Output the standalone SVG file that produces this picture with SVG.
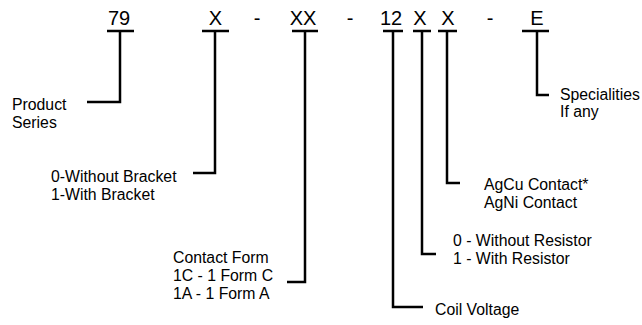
<svg xmlns="http://www.w3.org/2000/svg" width="642" height="325" viewBox="0 0 642 325">
<style>
.code{font-family:"Liberation Sans",Arial,sans-serif;font-size:20px;fill:#000;text-anchor:middle}
.lbl{font-family:"Liberation Sans",Arial,sans-serif;font-size:15.8px;fill:#000}
.ln{fill:none;stroke:#000;stroke-width:2.5;stroke-linejoin:miter;stroke-linecap:butt}
</style>
<rect width="642" height="325" fill="#fff"/>
<g id="code">
<text class="code" x="119" y="25">79</text>
<text class="code" x="215.5" y="25">X</text>
<text class="code" x="257" y="25">-</text>
<text class="code" x="303" y="25">XX</text>
<text class="code" x="350" y="25">-</text>
<text class="code" x="391" y="25">12</text>
<text class="code" x="420" y="25">X</text>
<text class="code" x="448" y="25">X</text>
<text class="code" x="490" y="25">-</text>
<text class="code" x="537" y="25">E</text>
</g>
<g id="connectors">
<path class="ln" d="M107 31H134M120 31V102H87"/>
<path class="ln" d="M202 31H229M215 31V173H193"/>
<path class="ln" d="M292 31H318M305 31V282H287"/>
<path class="ln" d="M383 31H403M393 31V307H423"/>
<path class="ln" d="M413 31H431M422 31V254H436"/>
<path class="ln" d="M438 31H457M447 31V183H460"/>
<path class="ln" d="M522 31H549M537 31V95H549"/>
</g>
<g id="series"><text class="lbl" x="12" y="110">Product</text><text class="lbl" x="12" y="127.5">Series</text></g>
<g id="bracket"><text class="lbl" x="51" y="182">0-Without Bracket</text><text class="lbl" x="51" y="200">1-With Bracket</text></g>
<g id="form"><text class="lbl" x="173" y="263">Contact Form</text><text class="lbl" x="173" y="281">1C - 1 Form C</text><text class="lbl" x="173" y="299">1A - 1 Form A</text></g>
<g id="voltage"><text class="lbl" x="435" y="315">Coil Voltage</text></g>
<g id="resistor"><text class="lbl" x="453" y="246">0 - Without Resistor</text><text class="lbl" x="453" y="263.5">1 - With Resistor</text></g>
<g id="contact"><text class="lbl" x="484" y="190">AgCu Contact*</text><text class="lbl" x="484" y="208">AgNi Contact</text></g>
<g id="special"><text class="lbl" x="560" y="100">Specialities</text><text class="lbl" x="560" y="117">If any</text></g>
</svg>
